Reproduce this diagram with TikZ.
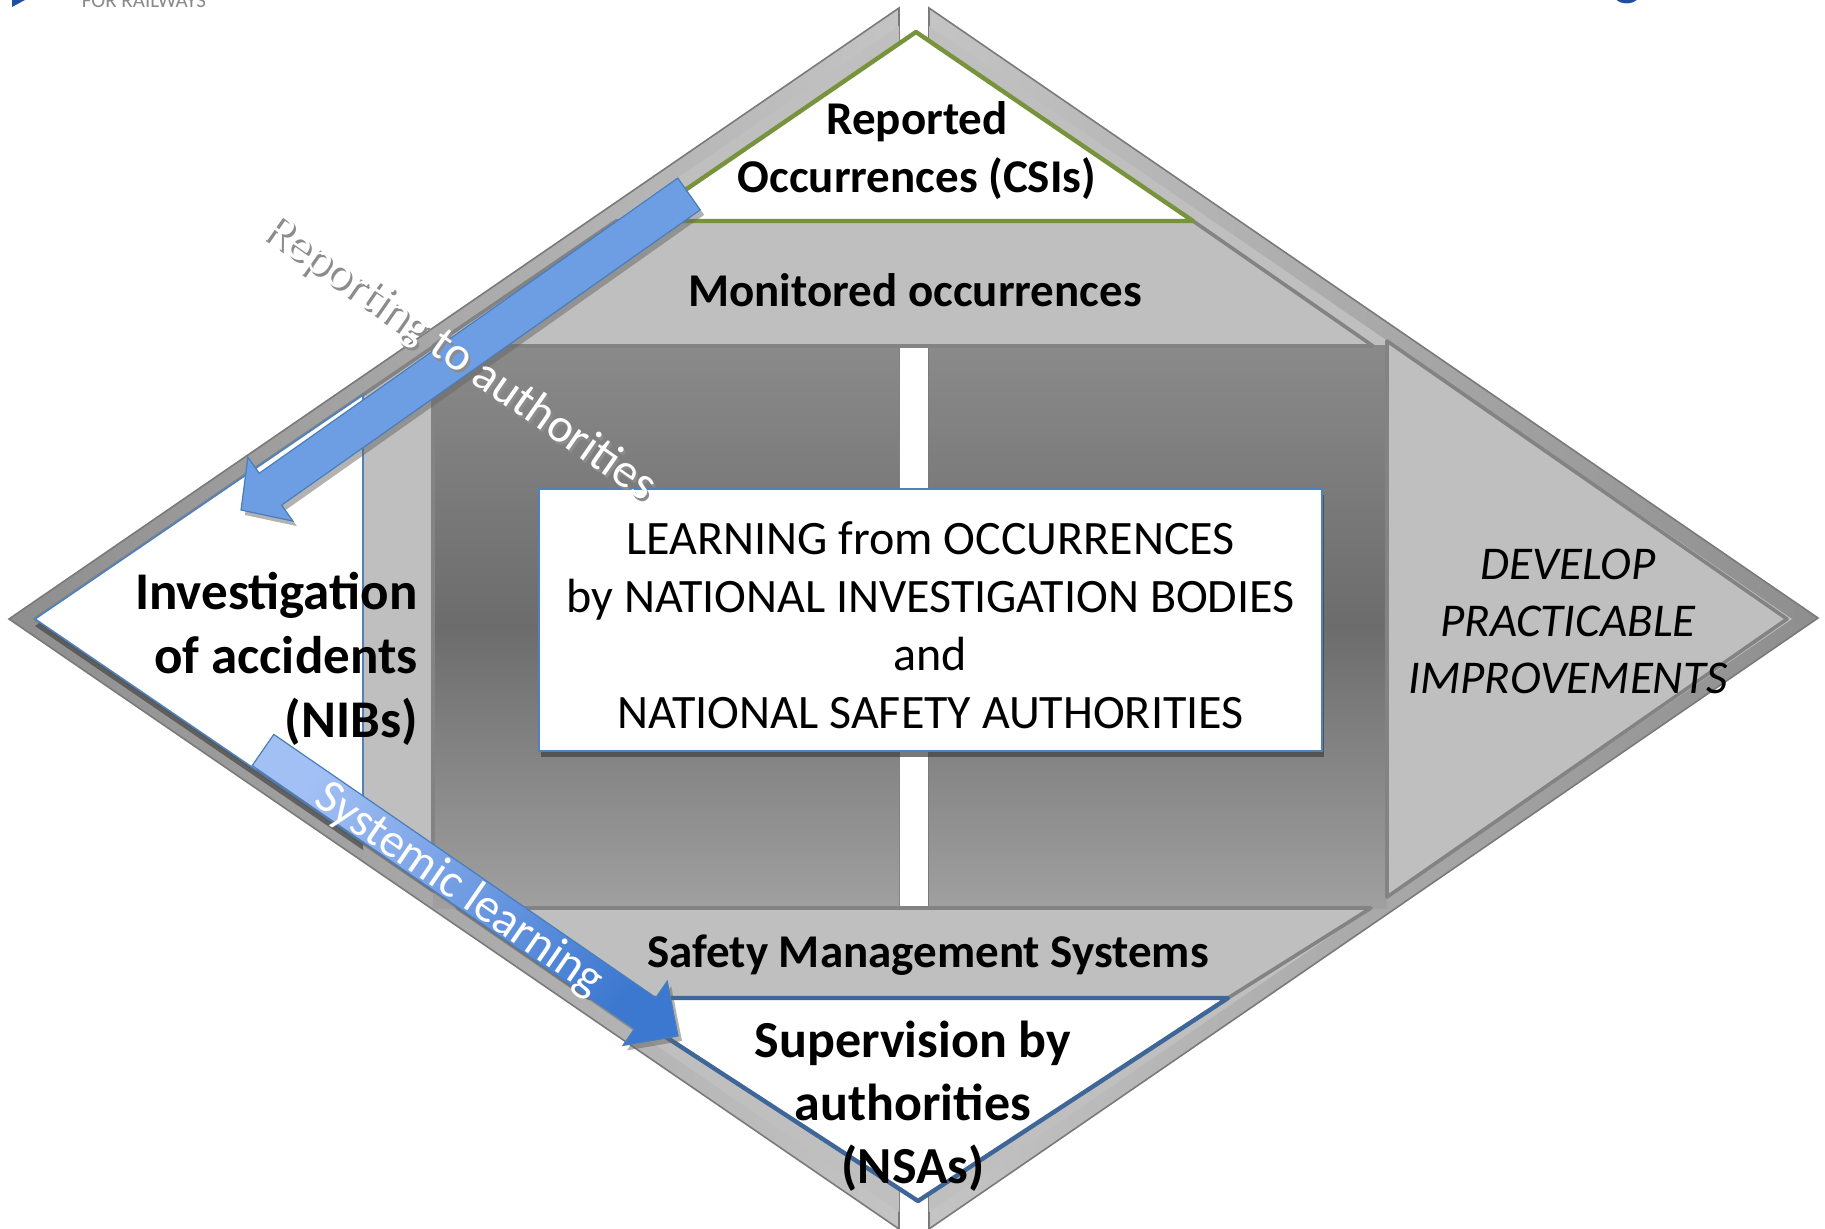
\documentclass[tikz,border=0pt]{standalone}
\usepackage{fontspec}
\setmainfont{Carlito}
\usetikzlibrary{shadows}
\definecolor{bandlight}{HTML}{C4C4C4}
\definecolor{banddark}{HTML}{8E8E8E}
\definecolor{bandline}{HTML}{7A7A7A}
\definecolor{lgrey}{HTML}{BFBFBF}
\definecolor{edgegrey}{HTML}{838383}
\definecolor{ctop}{HTML}{8A8A8A}
\definecolor{cmid}{HTML}{6C6C6C}
\definecolor{cbot}{HTML}{A0A0A0}
\definecolor{olivegreen}{HTML}{77933C}
\definecolor{boxblue}{HTML}{4F81BD}
\definecolor{supblue}{HTML}{3F6698}
\definecolor{arrowfill}{HTML}{6D9EE3}
\definecolor{arrowline}{HTML}{4A7EBB}
\definecolor{arrlight}{HTML}{A3C0F5}
\definecolor{arrdark}{HTML}{3D78D0}
\definecolor{logogrey}{HTML}{8A8A8A}
\definecolor{logoblue}{HTML}{1F4FA0}
\begin{document}
\begin{tikzpicture}[x=0.5pt,y=-0.5pt,
  lightpart/.style={fill=lgrey, draw=edgegrey, line width=1.8pt, line join=round},
  centerpart/.style={top color=ctop, bottom color=cbot, middle color=cmid},
  boldlabel/.style={font=\fontsize{23.5}{29}\selectfont\bfseries, align=center, inner sep=0pt},
  biglabel/.style={font=\fontsize{26.5}{32}\selectfont\bfseries, inner sep=0pt},
  arrowtext/.style={font=\fontsize{24}{29}\selectfont, inner sep=0pt, text=white},
  arrowshadow/.style={drop shadow={shadow xshift=2pt, shadow yshift=-2.5pt, fill=black!60, opacity=.5}}
  ]
\useasboundingbox (0,0) rectangle (1825,1229);
% header fragments
\fill[logoblue] (12,0) -- (25,0) -- (12,7) -- cycle;
\node[font=\fontsize{10.5}{12}\selectfont, text=logogrey, anchor=base, inner sep=0pt] (rail) at (144,8) {FOR RAILWAYS};
\node[font=\fontsize{30}{36}\selectfont, text=logoblue, anchor=base, inner sep=0pt] (titleg) at (1628,-6) {g};
% outer bands
\path[left color=banddark, right color=bandlight, draw=bandline, line width=0.8pt] (899,8) -- (9,619) -- (899,1229) -- cycle;
\path[left color=bandlight, right color=banddark, draw=bandline, line width=0.8pt] (929,8) -- (1818,618) -- (929,1229) -- cycle;
% inner halves
\fill[lgrey] (899,26) -- (35,619) -- (899,1212) -- cycle;
\fill[lgrey] (929,26) -- (1792,619) -- (929,1212) -- cycle;
% dark centre
\path[centerpart] (433,346) rectangle (899,908);
\path[centerpart] (929,346) rectangle (1387,908);
% left region
\path[lightpart] (433,347) -- (35,619) -- (433,891) -- cycle;
\path[fill=white, draw=boxblue, line width=0.8pt, drop shadow={shadow xshift=0pt, shadow yshift=-3.5pt, fill=black!75, opacity=.65}] (363,395) -- (35,619) -- (363,843) -- cycle;
% top, bottom, right regions
\path[lightpart] (433,346) -- (616,221) -- (1193,221) -- (1373,346) -- cycle;
\path[lightpart] (457,908) -- (1371,908) -- (1228,998) -- (588,998) -- cycle;
\path[lightpart] (1387,341) -- (1787,619) -- (1387,897) -- cycle;
% white triangles
\path[fill=white, draw=olivegreen, line width=2.2pt, line join=round] (916,32) -- (640,221) -- (1193,221) -- cycle;
\path[fill=white, draw=supblue, line width=2.2pt, line join=round] (606,998) -- (1228,998) -- (918,1201) -- cycle;
% centre box
\node[draw=boxblue, line width=0.8pt, fill=white, minimum width=391.5pt, minimum height=131pt, inner sep=0pt, drop shadow={shadow xshift=1pt, shadow yshift=-3pt, fill=black!75, opacity=.7}] (learn) at (930.5,620) {};
\node[align=center, inner sep=0pt, font=\fontsize{24}{29}\selectfont] (learntext) at (930.5,625) {LEARNING from OCCURRENCES\\by NATIONAL INVESTIGATION BODIES\\and\\NATIONAL SAFETY AUTHORITIES};
% block arrows
\path[fill=arrowfill, draw=arrowline, line width=0.6pt, arrowshadow] (677.8,178.1) -- (259.2,473.3) -- (247.9,457.3) -- (241,510) -- (292.9,521.1) -- (281.6,505.1) -- (700.2,209.9) -- cycle;
\path[left color=arrlight, right color=arrdark, shading angle=55, draw=arrowline, line width=0.6pt, arrowshadow] (273.8,734.4) -- (655.9,997.7) -- (667.2,981.2) -- (678,1036) -- (623,1045.4) -- (634.3,1028.9) -- (252.2,765.6) -- cycle;
% labels
\node[boldlabel] (rep) at (917,151) {Reported\\Occurrences (CSIs)};
\node[boldlabel] (mon) at (915,290) {Monitored occurrences};
\node[boldlabel] (sms) at (928,955) {Safety Management Systems};
\node[font=\fontsize{23.5}{28.5}\selectfont\itshape, align=center, inner sep=0pt] (dev) at (1568,621) {DEVELOP\\PRACTICABLE\\IMPROVEMENTS};
\node[biglabel, align=right, anchor=east] (inv) at (418,659) {Investigation\\of accidents\\(NIBs)};
\node[biglabel, align=center, font=\fontsize{26}{31.5}\selectfont\bfseries] (sup) at (913,1106) {Supervision by\\authorities\\(NSAs)};
\node[arrowtext, text=black!45, rotate=-34.9] (repshadow) at (462,362) {Reporting to authorities};
\node[arrowtext, rotate=-34.9] (reptxt) at (460,359) {Reporting to authorities};
\node[arrowtext, rotate=-34.6] (systxt) at (459,890) {Systemic learning};
\end{tikzpicture}
\end{document}
